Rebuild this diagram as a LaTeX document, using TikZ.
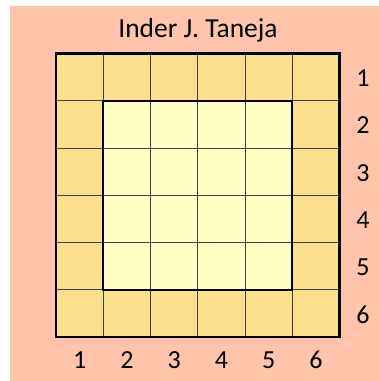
\documentclass[tikz,border=0pt]{standalone}
\usepackage{fontspec}
\setmainfont{Carlito}
\definecolor{sfondo}{RGB}{255,196,170}
\definecolor{bordo}{RGB}{253,224,142}
\definecolor{centro}{RGB}{255,255,194}
\tikzset{
  etichetta/.style={font=\fontsize{26}{26}\selectfont, inner sep=0pt},
  cella/.style={draw=black!75, line width=0.8pt}
}
\begin{document}
\begin{tikzpicture}[x=1pt,y=-1pt]
        \useasboundingbox (0,0) rectangle (379,381);
        %sfondo
        \fill[sfondo] (10,6) rectangle (379,381);
        %celle
        \foreach \r in {0,...,5}
          \foreach \c in {0,...,5}
            \draw[cella, fill=bordo] (56+47.25*\c,53.5+47.25*\r) rectangle ++(47.25,47.25);
        \foreach \r in {1,...,4}
          \foreach \c in {1,...,4}
            \draw[cella, fill=centro] (56+47.25*\c,53.5+47.25*\r) rectangle ++(47.25,47.25);
        %quadrati spessi
        \draw[line width=2.4pt] (56,53.5) rectangle (339.5,337);
        \draw[line width=2.4pt] (103.25,100.75) rectangle (292.25,289.75);
        %titolo
        \node[etichetta, font=\fontsize{27.5}{27.5}\selectfont] (titolo) at (198,30) {Inder J. Taneja};
        %numeri
        \foreach \i in {1,...,6} {
          \node[etichetta] (riga\i) at (363,53.5+47.25*\i-22.5) {\i};
          \node[etichetta] (col\i) at (56+47.25*\i-23.6,360) {\i};
        }
    \end{tikzpicture}
\end{document}
